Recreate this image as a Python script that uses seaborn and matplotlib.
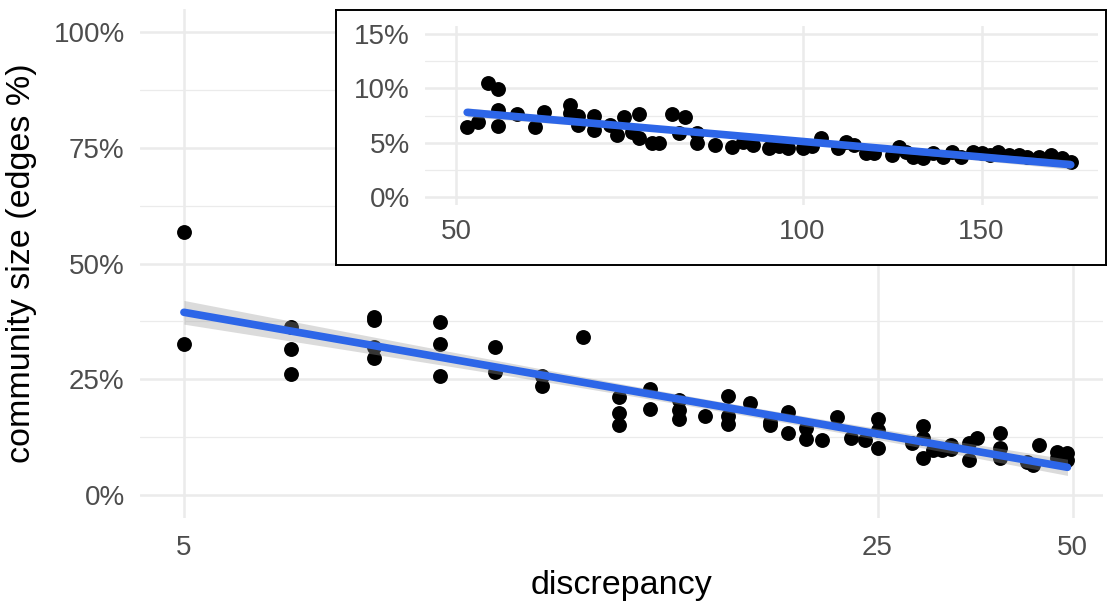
import numpy as np
import pandas as pd
import matplotlib
matplotlib.use('Agg')
import matplotlib.pyplot as plt
import seaborn as sns

sns.set_theme(style='white')
plt.rcParams['font.family'] = ['Liberation Sans', 'DejaVu Sans']

# main panel: discrepancy 5..50
main_disc = [5, 5, 6, 6, 6, 7, 7, 7, 7, 8, 8, 8, 9, 9, 10, 10, 11,
             12, 12, 12, 13, 13, 14, 14, 14, 15, 16, 16, 16, 17, 18, 18,
             19, 19, 20, 20, 21, 22, 23, 24, 25, 25, 25, 28, 29, 29, 29,
             30, 31, 32, 32, 34, 34, 35, 38, 38, 38, 42, 43, 44, 47, 47, 49, 49]
main_pct = [56.7, 32.6, 36.2, 31.5, 26.1, 38.4, 37.8, 32.0, 29.6, 37.3, 32.6, 25.7,
            32.0, 26.6, 25.7, 23.5, 34.1,
            21.1, 17.7, 15.1, 22.9, 18.6, 20.5, 18.3, 16.4, 17.0, 21.4, 17.0, 15.3,
            19.9, 15.8, 15.1, 17.8, 13.3, 14.5, 12.1, 11.9, 16.8, 12.3, 11.9,
            16.4, 14.0, 10.2, 11.2, 14.9, 12.3, 8.0, 9.7, 9.7, 10.8, 9.9,
            11.2, 7.6, 12.3, 13.4, 10.2, 8.0, 7.1, 6.5, 10.8, 9.3, 8.0, 9.1, 7.6]

# inset panel: discrepancy 51..186
inset_disc = [51, 52, 53, 54, 54, 54, 56, 58, 59, 62, 62, 63, 63, 65, 65, 67, 68,
              69, 70, 71, 71, 73, 74, 76, 77, 78, 80, 80, 83, 86, 88, 90, 93, 95,
              97, 100, 102, 104, 108, 110, 112, 115, 117, 122, 124, 126, 128, 131,
              134, 137, 140, 143, 147, 150, 153, 156, 160, 164, 167, 172, 177, 182, 186]
inset_pct = [6.4, 6.9, 10.5, 9.9, 8.0, 6.5, 7.6, 6.4, 7.8, 8.5, 7.7, 7.5, 6.6, 7.5,
             6.2, 6.6, 5.7, 7.4, 6.0, 7.6, 5.4, 5.0, 5.0, 7.6, 5.9, 7.4, 5.9, 5.0,
             4.8, 4.6, 5.1, 4.8, 4.5, 4.7, 4.5, 4.5, 4.7, 5.4, 4.5, 5.1, 4.8, 4.0,
             4.0, 3.9, 4.6, 4.1, 3.7, 3.6, 4.0, 3.7, 4.1, 3.7, 4.1, 4.0, 3.9, 4.1,
             3.9, 3.9, 3.7, 3.7, 3.9, 3.6, 3.2]

main_xticks = [5, 25, 50]
main_yticks = [0, 25, 50, 75, 100]
inset_xticks = [50, 100, 150]
inset_yticks = [0, 5, 10, 15]


def tr(v):
    # log(log(x)) scale
    return np.log(np.log(np.asarray(v, dtype=float)))


def draw_panel(ax, disc, pct, xticks, yticks, ylim, xlim, minor_y):
    df = pd.DataFrame({'t': tr(disc), 'pct': pct})
    # gray confidence band of the linear fit
    t = df['t'].values
    y = df['pct'].values
    b, a = np.polyfit(t, y, 1)
    tt = np.linspace(t.min(), t.max(), 100)
    resid = y - (a + b * t)
    s = np.sqrt(np.sum(resid ** 2) / (len(t) - 2))
    se = s * np.sqrt(1 / len(t) + (tt - t.mean()) ** 2 / np.sum((t - t.mean()) ** 2))
    fit = a + b * tt
    ax.fill_between(tt, fit - 1.99 * se, fit + 1.99 * se, color='#999999',
                    alpha=0.35, lw=0, zorder=3)
    sns.regplot(data=df, x='t', y='pct', ax=ax, ci=None, truncate=True,
                scatter_kws={'s': 115, 'color': 'black', 'linewidths': 0, 'alpha': 1, 'zorder': 2},
                line_kws={'color': '#2D66E8', 'lw': 5.5, 'zorder': 4})
    ax.set_xlim(tr(xlim))
    ax.set_ylim(ylim)
    ax.set_xticks(tr(xticks))
    ax.set_xticklabels([str(v) for v in xticks])
    ax.set_yticks(yticks)
    ax.set_yticklabels([f'{v}%' for v in yticks])
    ax.set_yticks(minor_y, minor=True)
    ax.grid(True, which='major', color='#EBEBEB', lw=1.8)
    ax.grid(True, which='minor', axis='y', color='#EBEBEB', lw=0.9)
    ax.set_axisbelow(True)
    for sp in ax.spines.values():
        sp.set_visible(False)
    ax.tick_params(length=0, labelsize=20, labelcolor='#4D4D4D')
    ax.set_xlabel('')
    ax.set_ylabel('')


W, H = 1109, 603
fig = plt.figure(figsize=(W / 100, H / 100), dpi=100)
fig.patch.set_facecolor('white')

ax = fig.add_axes([140 / W, 1 - 518 / H, (1103 - 140) / W, (518 - 9) / H])
draw_panel(ax, main_disc, main_pct, main_xticks, main_yticks, (-5, 105),
           (4.666, 56.4), [12.5, 37.5, 62.5, 87.5])
ax.tick_params(axis='x', pad=12)
ax.tick_params(axis='y', pad=11)
ax.set_xlabel('discrepancy', fontsize=24.5, color='black', labelpad=7)
ax.set_ylabel('community size (edges %)', fontsize=24.5, color='black', labelpad=12)

# inset box
box = fig.add_axes([336 / W, 1 - 265 / H, (1106 - 336) / W, (265 - 10) / H])
box.set_facecolor('white')
box.set_xticks([])
box.set_yticks([])
for sp in box.spines.values():
    sp.set_visible(True)
    sp.set_color('black')
    sp.set_linewidth(1.4)

axi = fig.add_axes([425 / W, 1 - 205 / H, (1098 - 425) / W, (205 - 26) / H])
axi.set_facecolor('none')
draw_panel(axi, inset_disc, inset_pct, inset_xticks, inset_yticks, (-0.75, 15.75),
           (47.2, 199), [2.5, 7.5, 12.5])
axi.tick_params(axis='x', pad=10)
axi.tick_params(axis='y', pad=11)

fig.savefig('out.png', dpi=100)
